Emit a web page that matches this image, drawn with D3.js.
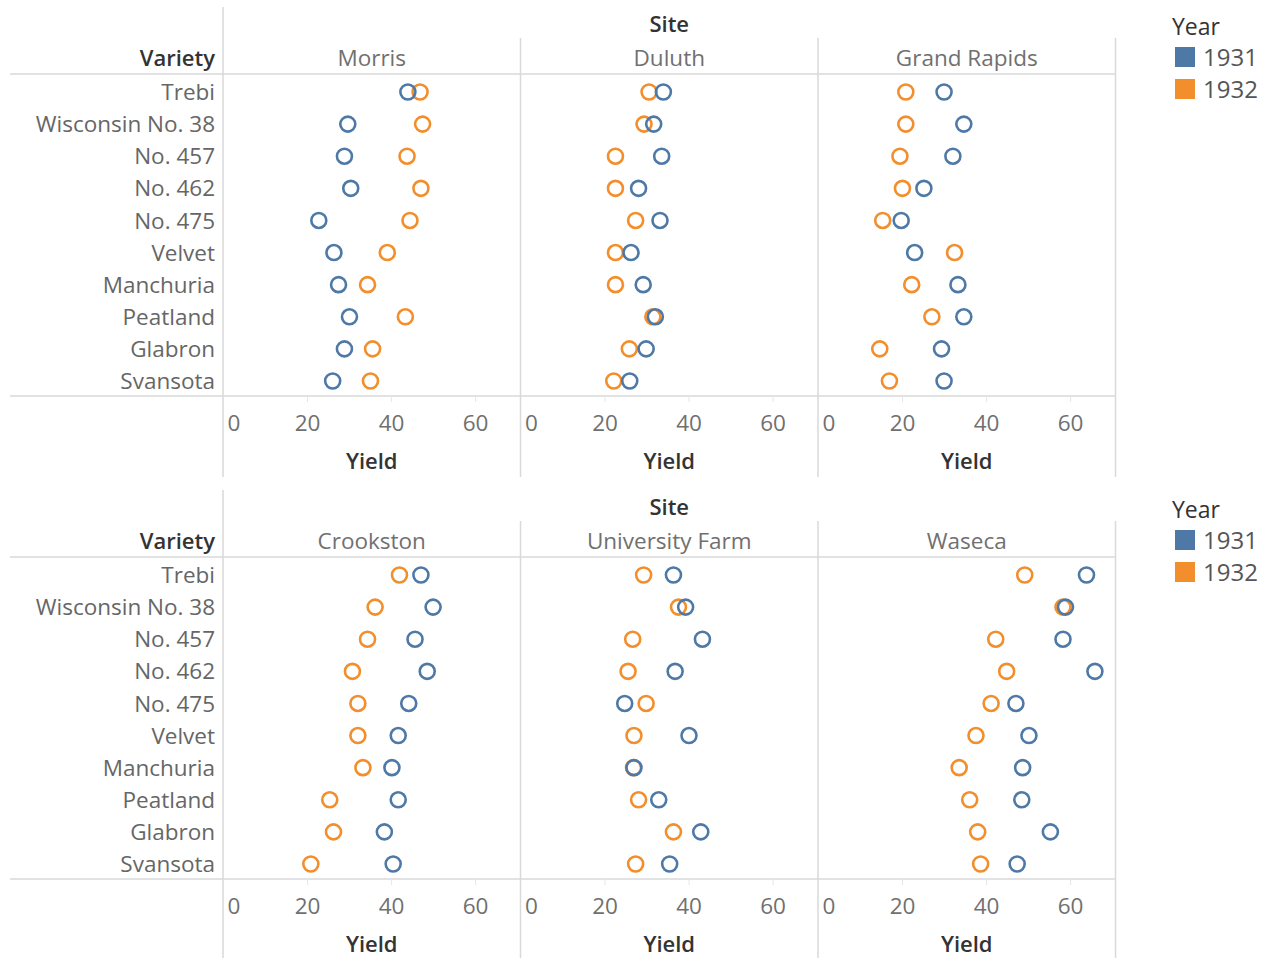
<!DOCTYPE html>
<html>
<head>
<meta charset="utf-8">
<script src="https://cdn.jsdelivr.net/npm/d3@7"></script>
<style>
  body { margin: 0; background: #fff; }
  svg text { font-family: "Open Sans", sans-serif; }
</style>
</head>
<body>
<div id="chart"></div>
<script>
// Varieties (rows) and sites (columns) as in the reference
const varieties = ["Trebi", "Wisconsin No. 38", "No. 457", "No. 462", "No. 475",
  "Velvet", "Manchuria", "Peatland", "Glabron", "Svansota"];
const sitesTop = ["Morris", "Duluth", "Grand Rapids"];
const sitesBottom = ["Crookston", "University Farm", "Waseca"];
const years = ["1931", "1932"];
const tickValues = [0, 20, 40, 60];

// Yields, in the variety order above
const morris1931 = [44.0, 29.7, 28.9, 30.4, 22.8, 26.4, 27.5, 30.1, 28.9, 26.1];
const morris1932 = [46.9, 47.5, 43.8, 47.1, 44.5, 39.1, 34.4, 43.4, 35.6, 35.1];
const duluth1931 = [34.0, 31.7, 33.6, 28.1, 33.2, 26.3, 29.2, 32.1, 29.9, 26.0];
const duluth1932 = [30.6, 29.4, 22.6, 22.6, 27.4, 22.6, 22.6, 31.5, 25.9, 22.2];
const grandRapids1931 = [30.0, 34.7, 32.1, 25.2, 19.8, 23.0, 33.3, 34.7, 29.4, 30.0];
const grandRapids1932 = [20.9, 20.9, 19.5, 20.1, 15.4, 32.5, 22.3, 27.1, 14.7, 17.0];
const crookston1931 = [47.1, 50.0, 45.7, 48.6, 44.2, 41.7, 40.2, 41.7, 38.4, 40.5];
const crookston1932 = [42.0, 36.2, 34.4, 30.8, 32.1, 32.1, 33.3, 25.4, 26.3, 20.9];
const univFarm1931 = [36.4, 39.3, 43.3, 36.8, 24.8, 40.1, 27.0, 32.9, 42.9, 35.5];
const univFarm1932 = [29.3, 37.6, 26.7, 25.6, 29.9, 27.0, 26.9, 28.1, 36.4, 27.4];
const waseca1931 = [63.9, 58.9, 58.3, 65.9, 47.1, 50.2, 48.7, 48.5, 55.3, 47.4];
const waseca1932 = [49.2, 58.3, 42.3, 44.9, 41.2, 37.6, 33.6, 36.1, 38.0, 38.7];

const siteSeries = {
  "Morris": [morris1931, morris1932],
  "Duluth": [duluth1931, duluth1932],
  "Grand Rapids": [grandRapids1931, grandRapids1932],
  "Crookston": [crookston1931, crookston1932],
  "University Farm": [univFarm1931, univFarm1932],
  "Waseca": [waseca1931, waseca1932]
};

const width = 1270, height = 958;
const color = d3.scaleOrdinal().domain(years).range(["#4e79a7", "#f28e2b"]);
const lineColor = "#d9d9d9";
const labelGray = "#666";
const titleDark = "#333";
const textSize = "22.5px";
const titleSize = "22px";

const svg = d3.select("#chart").append("svg")
  .attr("width", width)
  .attr("height", height);

const labelRight = 215;
const panelLeft = 223;
const panelWidth = 297.5;
const xMax = 70.8;

function drawBlock(sites, top) {
  const g = svg.append("g").attr("transform", `translate(0,${top})`);
  const panelRight = panelLeft + panelWidth * sites.length;

  const y = d3.scalePoint().domain(varieties).range([92, 381]);

  // Grid frame lines
  g.append("line").attr("x1", panelLeft).attr("x2", panelLeft)
    .attr("y1", 7).attr("y2", 477).attr("stroke", lineColor).attr("stroke-width", 1.5);
  sites.forEach((s, i) => {
    const xr = panelLeft + panelWidth * (i + 1);
    g.append("line").attr("x1", xr).attr("x2", xr)
      .attr("y1", 38).attr("y2", 477).attr("stroke", lineColor).attr("stroke-width", 1.5);
  });
  [74, 396].forEach(yy => {
    g.append("line").attr("x1", 10).attr("x2", panelRight)
      .attr("y1", yy).attr("y2", yy).attr("stroke", lineColor).attr("stroke-width", 1.5);
  });

  // Headers
  g.append("text").attr("x", panelLeft + panelWidth * 1.5).attr("y", 32)
    .attr("text-anchor", "middle").attr("fill", titleDark)
    .style("font-size", titleSize).style("font-weight", 600).text("Site");
  g.append("text").attr("x", labelRight).attr("y", 66)
    .attr("text-anchor", "end").attr("fill", titleDark)
    .style("font-size", titleSize).style("font-weight", 600).text("Variety");

  // Row labels
  g.selectAll(".row-label").data(varieties).enter().append("text")
    .attr("class", "row-label")
    .attr("x", labelRight).attr("y", d => y(d)).attr("dy", "0.36em")
    .attr("text-anchor", "end").attr("fill", labelGray)
    .style("font-size", textSize).text(d => d);

  sites.forEach((site, i) => {
    const x0 = panelLeft + panelWidth * i;
    const x = d3.scaleLinear().domain([0, xMax]).range([x0, x0 + panelWidth]);

    g.append("text").attr("x", x0 + panelWidth / 2).attr("y", 66)
      .attr("text-anchor", "middle").attr("fill", "#707070")
      .style("font-size", textSize).text(site);

    // Axis
    const axis = g.append("g").attr("transform", "translate(0,396)")
      .call(d3.axisBottom(x).tickValues(tickValues).tickSize(6).tickPadding(13));
    axis.select(".domain").remove();
    axis.selectAll(".tick line").attr("stroke", "#e6e6e6");
    axis.selectAll(".tick text")
      .attr("fill", "#707070").style("font-size", textSize)
      .style("font-family", "'Open Sans', sans-serif");
    axis.selectAll(".tick").filter(d => d === 0).select("line").remove();
    axis.selectAll(".tick").filter(d => d === 0).select("text")
      .attr("text-anchor", "start").attr("x", 4);

    g.append("text").attr("x", x0 + panelWidth / 2).attr("y", 469)
      .attr("text-anchor", "middle").attr("fill", titleDark)
      .style("font-size", titleSize).style("font-weight", 600).text("Yield");

    // Points: 1932 first, 1931 on top
    const [v31, v32] = siteSeries[site];
    const points = [];
    varieties.forEach((v, k) => {
      points.push({ variety: v, year: "1932", value: v32[k] });
    });
    varieties.forEach((v, k) => {
      points.push({ variety: v, year: "1931", value: v31[k] });
    });

    g.selectAll(null).data(points).enter().append("circle")
      .attr("cx", d => x(d.value))
      .attr("cy", d => y(d.variety))
      .attr("r", 7.5)
      .attr("fill", "none")
      .attr("stroke", d => color(d.year))
      .attr("stroke-width", 2.6);
  });

  // Legend
  const legend = g.append("g").attr("transform", "translate(1172,0)");
  legend.append("text").attr("x", 0).attr("y", 35).attr("fill", titleDark)
    .style("font-size", "23px").style("font-weight", 500).text("Year");
  const items = legend.selectAll(".leg").data(years).enter().append("g")
    .attr("transform", (d, i) => `translate(3,${47 + i * 32})`);
  items.append("rect").attr("width", 20).attr("height", 20)
    .attr("fill", d => color(d));
  items.append("text").attr("x", 28).attr("y", 10).attr("dy", "0.36em")
    .attr("fill", "#555").style("font-size", "24px").text(d => d);
}

drawBlock(sitesTop, 0);
drawBlock(sitesBottom, 483);
</script>
</body>
</html>
